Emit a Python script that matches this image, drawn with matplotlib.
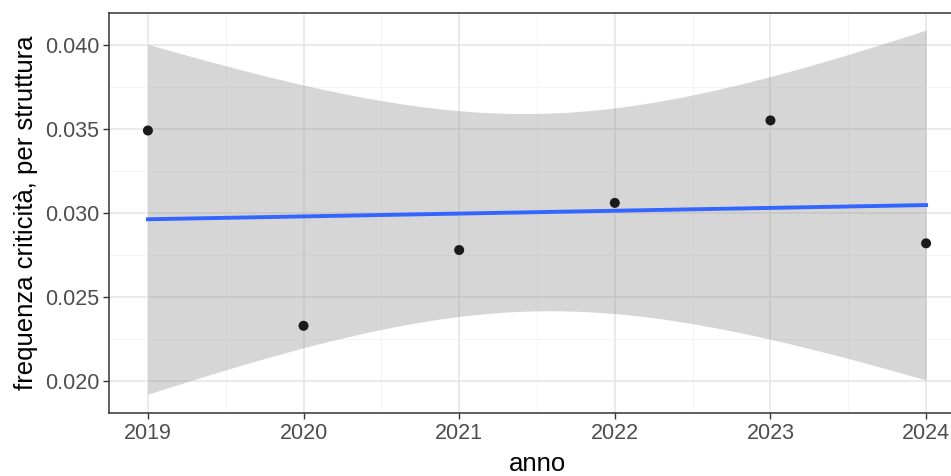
import numpy as np
import matplotlib
matplotlib.use('Agg')
import matplotlib.pyplot as plt
from matplotlib.ticker import MultipleLocator

plt.rcParams['font.family'] = ['Liberation Sans', 'DejaVu Sans']

anno = np.array([2019, 2020, 2021, 2022, 2023, 2024])
freq = np.array([0.0349, 0.0233, 0.0278, 0.0306, 0.0355, 0.0282])
T_975_DF4 = 2.776445  # t quantile for 95% CI, n-2 = 4 df

# linear fit + 95% confidence band (like geom_smooth(method = "lm"))
n = len(anno)
slope, icpt = np.polyfit(anno, freq, 1)
resid = freq - (icpt + slope * anno)
s = np.sqrt(np.sum(resid ** 2) / (n - 2))
xm = anno.mean(); sxx = np.sum((anno - xm) ** 2)
xs = np.linspace(anno.min(), anno.max(), 80)
fit = icpt + slope * xs
se = s * np.sqrt(1 / n + (xs - xm) ** 2 / sxx)
lo, hi = fit - T_975_DF4 * se, fit + T_975_DF4 * se

fig = plt.figure(figsize=(9.51, 4.76), dpi=100)
ax = fig.add_axes([109 / 951, 63 / 476, 856 / 951, 400 / 476])

ax.fill_between(xs, lo, hi, color='#999999', alpha=0.4, lw=0, zorder=2)
ax.plot(xs, fit, color='#3366FF', lw=2.8, zorder=3)
ax.scatter(anno, freq, s=52, color='#1a1a1a', edgecolor='none', zorder=4)

ax.set_xlim(2018.75, 2024.25)
ax.set_ylim(0.01812, 0.04188)
ax.set_xticks(anno)
ax.yaxis.set_major_locator(MultipleLocator(0.005))
ax.yaxis.set_major_formatter(matplotlib.ticker.FormatStrFormatter('%.3f'))
ax.xaxis.set_minor_locator(MultipleLocator(0.5))
ax.yaxis.set_minor_locator(MultipleLocator(0.0025))
ax.grid(which='major', color='#E6E6E6', lw=1.2, zorder=0)
ax.grid(which='minor', color='#F2F2F2', lw=0.6, zorder=0)
ax.set_axisbelow(True)
ax.tick_params(which='major', length=4, width=1, color='#333333',
               labelsize=15.5, labelcolor='#4D4D4D', pad=3)
ax.tick_params(which='minor', length=0)
for sp in ax.spines.values():
    sp.set_color('#333333'); sp.set_linewidth(1.1)

ax.set_xlabel('anno', fontsize=18.5, color='black', labelpad=6)
ax.set_ylabel('frequenza criticità, per struttura', fontsize=18.5, color='black', labelpad=5)

fig.savefig('out.png', dpi=100)
